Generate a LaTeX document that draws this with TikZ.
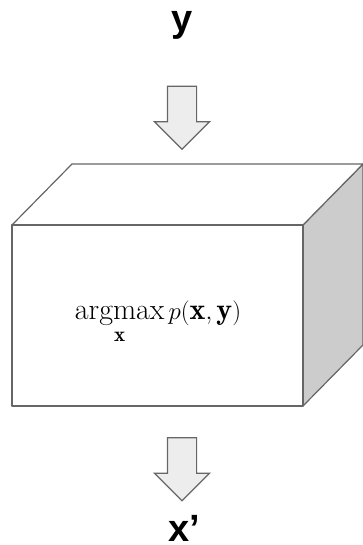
\documentclass[tikz,border=0pt]{standalone}
\usepackage{amsmath}
\usepackage{fontspec}
\setsansfont{Liberation Sans}
\usetikzlibrary{shapes,arrows,positioning,calc}

\DeclareMathOperator*{\argmax}{argmax}

\begin{document}
\begin{tikzpicture}[
    x=1pt, y=1pt,
    face/.style={draw=black!60, line width=1.2pt, line join=round},
    flowarrow/.style={single arrow, draw=black!60, line width=1.2pt, fill=black!7,
        minimum width=54pt, minimum height=63pt, inner xsep=0pt, inner ysep=14pt,
        single arrow head extend=13pt, single arrow tip angle=90, rotate=-90},
    varlabel/.style={font=\sffamily\bfseries\fontsize{38}{40}\selectfont, anchor=base, inner sep=0pt},
    formula/.style={font=\fontsize{30}{33}\selectfont, anchor=base},
]
\useasboundingbox (0,0) rectangle (362,545);

% Input
\node[varlabel] (input) at (182, 513) {y};
\node[flowarrow] (inarrow) at (182, 434.5) {};

% Box (front, top and side faces)
\coordinate (fbl) at (12, 139);
\coordinate (fbr) at (303, 139);
\coordinate (ftr) at (303, 320);
\coordinate (ftl) at (12, 320);
\coordinate (btl) at (72, 381);
\coordinate (btr) at (363, 381);
\coordinate (bbr) at (363, 200);
\draw[face, fill=black!20] (fbr) -- (bbr) -- (btr) -- (ftr) -- cycle;
\draw[face, fill=white] (ftl) -- (btl) -- (btr) -- (ftr) -- cycle;
\draw[face, fill=white] (fbl) rectangle (ftr);
\node[formula] (model) at (158, 225) {$\displaystyle\argmax_{\mathbf{x}} p(\mathbf{x},\mathbf{y})$};

% Output
\node[varlabel] (output) at (184.5, 3) {x’};
\node[flowarrow] (outarrow) at (182, 83) {};

\end{tikzpicture}
\end{document}
